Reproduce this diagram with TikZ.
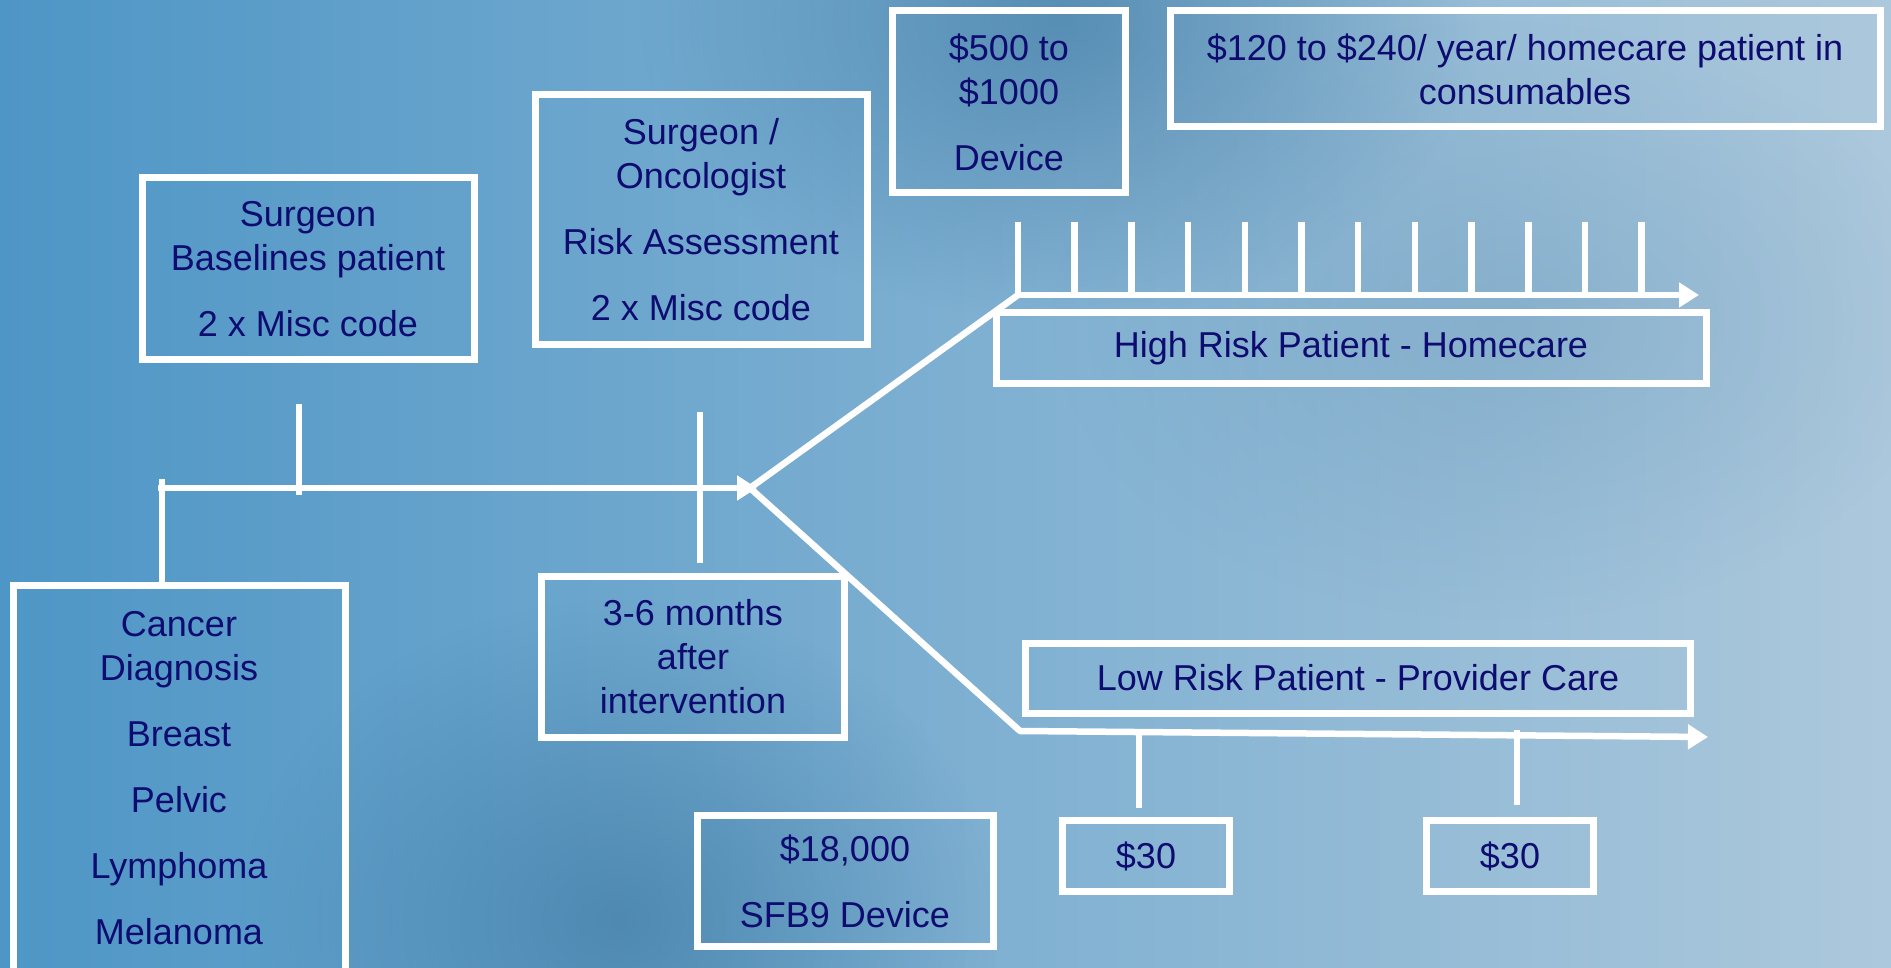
\documentclass[tikz,border=0pt]{standalone}
\usepackage{fontspec}
\setmainfont{Liberation Sans}
\usetikzlibrary{arrows.meta,calc,fadings}
\definecolor{ink}{RGB}{14,12,112}
\definecolor{bgl}{RGB}{78,150,198}
\definecolor{bgm}{RGB}{108,167,205}
\definecolor{bgr}{RGB}{172,200,220}
\definecolor{shadow}{RGB}{58,118,160}
\tikzfading[name=spot,inner color=transparent!40,outer color=transparent!100]
\tikzfading[name=faintspot,inner color=transparent!70,outer color=transparent!100]

\begin{document}
\begin{tikzpicture}[x=1pt,y=-1pt,
  box/.style={draw=white,line width=7pt,inner sep=0pt,align=center,text=ink,
              font=\fontsize{36}{44}\selectfont},
  rail/.style={white,line width=6.5pt},
  railarrow/.style={rail,-{Triangle[length=20pt,width=24pt]}}]
\clip (0,0) rectangle (1891,968);
\shade[left color=bgl,middle color=bgm,right color=bgr] (0,0) rectangle (1891,968);
\fill[shadow,path fading=spot] (1060,20) ellipse (420pt and 300pt);
\fill[shadow,path fading=spot] (620,920) ellipse (380pt and 320pt);
\fill[shadow!70!bgr,path fading=faintspot] (1500,320) ellipse (450pt and 300pt);

\node[box,minimum width=332pt,minimum height=182pt] (base) at (308,269)
  {Surgeon\\Baselines patient\\[22pt]2 x Misc code};
\node[box,minimum width=332pt,minimum height=250pt] (onco) at (701,220)
  {Surgeon /\\Oncologist\\[22pt]Risk Assessment\\[22pt]2 x Misc code};
\node[box,minimum width=233pt,minimum height=182pt] (device) at (1009,102)
  {\$500 to\\\$1000\\[22pt]Device};
\node[box,minimum width=710pt,minimum height=116pt] (consum) at (1525,69)
  {\$120 to \$240/ year/ homecare patient in\\consumables};
\node[box,minimum width=710pt,minimum height=71pt] (high) at (1351,348)
  {High Risk Patient - Homecare};
\node[box,minimum width=665pt,minimum height=70pt] (low) at (1358,678)
  {Low Risk Patient - Provider Care};
\node[box,minimum width=332pt,minimum height=386pt] (cancer) at (179,778)
  {Cancer\\Diagnosis\\[22pt]Breast\\[22pt]Pelvic\\[22pt]Lymphoma\\[22pt]Melanoma};
\node[box,minimum width=303pt,minimum height=161pt] (months) at (693,657)
  {3-6 months\\after\\intervention};
\node[box,minimum width=296pt,minimum height=131pt] (sfb) at (845,881)
  {\$18,000\\[22pt]SFB9 Device};
\node[box,minimum width=167pt,minimum height=71pt] (costa) at (1146,856) {\$30};
\node[box,minimum width=167pt,minimum height=71pt] (costb) at (1510,856) {\$30};

\coordinate (start) at (158,488);
\coordinate (split) at (750,488);
\coordinate (hstart) at (1018,295);
\coordinate (hend) at (1699,295);
\coordinate (lstart) at (1020,731);
\coordinate (lend) at (1708,737);

\draw[railarrow] (start) -- (757,488);
\draw[rail] (162,479) -- (162,585);
\draw[rail] (299,404) -- (299,495);
\draw[rail] (700,412) -- (700,563);
\draw[rail,line cap=round] (split) -- (hstart);
\draw[rail,line cap=round] (split) -- (lstart);
\draw[railarrow] (hstart) -- (hend);
\foreach \i in {0,...,11}
  \draw[rail] (1018+56.7*\i,222) -- (1018+56.7*\i,295);
\draw[railarrow] (lstart) -- (lend);
\draw[rail] (1139,733) -- (1139,808);
\draw[rail] (1517,730) -- (1517,805);
\end{tikzpicture}
\end{document}
